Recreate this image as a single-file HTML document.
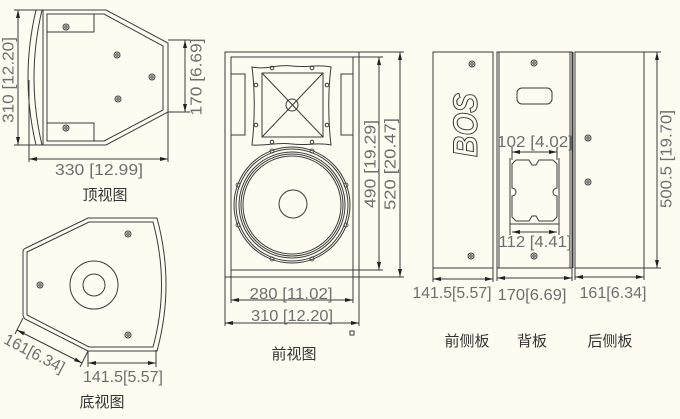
<!DOCTYPE html>
<html><head><meta charset="utf-8"><style>
html,body{margin:0;padding:0;background:#fefcf0;}
svg{display:block;}
.l{fill:none;stroke:#3a3a3a;stroke-width:1;}
.t{font-family:"Liberation Sans",sans-serif;font-size:16px;fill:#6e6e6e;}
.c{font-family:"Liberation Sans","Noto Sans CJK SC",sans-serif;font-size:15px;fill:#333;}
</style></head><body>
<svg width="680" height="419" viewBox="0 0 680 419" xmlns="http://www.w3.org/2000/svg">
<defs>
<marker id="a" viewBox="0 0 8 4" refX="8" refY="2" markerWidth="8" markerHeight="4" markerUnits="userSpaceOnUse" orient="auto-start-reverse"><path d="M0,0 L8,2 L0,4z" fill="#222"/></marker>
<g id="h"><circle r="3" class="l"/><circle r="1.2" class="l"/></g>
</defs>
<rect width="680" height="419" fill="#fefcf0"/>

<!-- TOP VIEW -->
<path class="l" d="M36,10 L106,10 L168,43 L168,112 L106,145 L36,145 Q20,78 36,10 Z"/>
<path class="l" d="M42,10 Q26,78 42,145"/>
<line class="l" x1="43" y1="10" x2="43" y2="145"/>
<path class="l" d="M47,14 L104,14 L163,46 L163,110 L104,141 L47,141 Z"/>
<rect class="l" x="47" y="14" width="47" height="18"/>
<rect class="l" x="47" y="123" width="47" height="18"/>
<use href="#h" x="66" y="27"/><use href="#h" x="117" y="55"/><use href="#h" x="152" y="77"/><use href="#h" x="118" y="99"/><use href="#h" x="66" y="128"/>
<line class="l" x1="14" y1="10" x2="36" y2="10"/><line class="l" x1="14" y1="145" x2="36" y2="145"/>
<line class="l" x1="18" y1="10" x2="18" y2="145" marker-start="url(#a)" marker-end="url(#a)"/>
<text class="t" transform="translate(9,80) rotate(-90)" text-anchor="middle" dominant-baseline="central" textLength="86" lengthAdjust="spacingAndGlyphs">310 [12.20]</text>
<line class="l" x1="168" y1="40" x2="190" y2="40"/><line class="l" x1="168" y1="112" x2="190" y2="112"/>
<line class="l" x1="185" y1="40" x2="185" y2="112" marker-start="url(#a)" marker-end="url(#a)"/>
<text class="t" transform="translate(197,77) rotate(-90)" text-anchor="middle" dominant-baseline="central" textLength="77" lengthAdjust="spacingAndGlyphs">170 [6.69]</text>
<line class="l" x1="29" y1="80" x2="29" y2="162"/><line class="l" x1="168" y1="112" x2="168" y2="162"/>
<line class="l" x1="29" y1="159" x2="168" y2="159" marker-start="url(#a)" marker-end="url(#a)"/>
<text class="t" x="99" y="175" text-anchor="middle" textLength="88" lengthAdjust="spacingAndGlyphs">330 [12.99]</text>
<text class="c" x="105" y="200" text-anchor="middle" font-size="16">顶视图</text>

<!-- BOTTOM VIEW -->
<path class="l" d="M88,218 L157,218 Q175,285 157,351 L88,351 L25,319 Q23,317 23,314 L23,252 Q23,249 26,248 Z"/>
<path class="l" d="M89,222 L153,222 Q170,285 153,347 L89,347 L27,315 L27,252 Z"/>
<circle class="l" cx="94" cy="285" r="24"/><circle class="l" cx="94" cy="285" r="11"/>
<use href="#h" x="128" y="234"/><use href="#h" x="40" y="285"/><use href="#h" x="128" y="335"/>
<line class="l" x1="23" y1="318" x2="15" y2="334"/><line class="l" x1="88" y1="351" x2="80" y2="367"/>
<line class="l" x1="17" y1="330" x2="82" y2="363" marker-start="url(#a)" marker-end="url(#a)"/>
<text class="t" transform="translate(34,354) rotate(27.6)" text-anchor="middle" dominant-baseline="central" textLength="66" lengthAdjust="spacingAndGlyphs">161[6.34]</text>
<line class="l" x1="88" y1="351" x2="88" y2="367"/><line class="l" x1="156" y1="350" x2="156" y2="367"/>
<line class="l" x1="88" y1="363" x2="156" y2="363" marker-start="url(#a)" marker-end="url(#a)"/>
<text class="t" x="123" y="382" text-anchor="middle" textLength="80" lengthAdjust="spacingAndGlyphs">141.5[5.57]</text>
<text class="c" x="102" y="407" text-anchor="middle">底视图</text>

<!-- FRONT VIEW -->
<rect class="l" x="225" y="52" width="134" height="225"/>
<rect class="l" x="231" y="57" width="122" height="213"/>
<line class="l" x1="359" y1="52" x2="404" y2="52"/><line class="l" x1="353" y1="57" x2="383" y2="57"/>
<line class="l" x1="353" y1="270" x2="383" y2="270"/><line class="l" x1="359" y1="277" x2="404" y2="277"/>
<line class="l" x1="379" y1="57" x2="379" y2="270" marker-start="url(#a)" marker-end="url(#a)"/>
<line class="l" x1="400" y1="52" x2="400" y2="277" marker-start="url(#a)" marker-end="url(#a)"/>
<text class="t" transform="translate(371,164) rotate(-90)" text-anchor="middle" dominant-baseline="central" textLength="88" lengthAdjust="spacingAndGlyphs">490 [19.29]</text>
<text class="t" transform="translate(391,164) rotate(-90)" text-anchor="middle" dominant-baseline="central" textLength="92" lengthAdjust="spacingAndGlyphs">520 [20.47]</text>
<rect class="l" x="231" y="74" width="14" height="61"/>
<rect class="l" x="341" y="74" width="12" height="61"/>
<path class="l" d="M252,67 C268,70 276,64 292,66 C308,68 316,64 331,67 C328,90 328,120 331,145 C316,142 308,146 292,144 C276,142 268,146 252,145 C255,120 255,90 252,67 Z"/>
<rect class="l" x="262" y="73" width="61" height="64"/>
<line class="l" x1="262" y1="73" x2="323" y2="137"/><line class="l" x1="323" y1="73" x2="262" y2="137"/>
<circle class="l" cx="292" cy="105" r="6" fill="#fefcf0"/>
<g><circle class="l" cx="272" cy="68" r="1.8"/><circle class="l" cx="312" cy="68" r="1.8"/><circle class="l" cx="256" cy="85" r="1.8"/><circle class="l" cx="327" cy="85" r="1.8"/><circle class="l" cx="256" cy="125" r="1.8"/><circle class="l" cx="327" cy="125" r="1.8"/><circle class="l" cx="272" cy="142" r="1.8"/><circle class="l" cx="312" cy="142" r="1.8"/></g>
<circle class="l" cx="292" cy="205" r="58"/><circle class="l" cx="292" cy="205" r="56" stroke-width="0.8"/><circle class="l" cx="292" cy="205" r="53" stroke-width="0.8"/><circle class="l" cx="292" cy="205" r="51" stroke-width="0.8"/><circle class="l" cx="292" cy="205" r="49" stroke-width="0.8"/>
<circle class="l" cx="293" cy="204" r="14"/>
<g stroke="#3a3a3a" fill="none" stroke-width="0.8"><circle cx="272" cy="151" r="2"/><circle cx="312" cy="151" r="2"/><circle cx="346" cy="185" r="2"/><circle cx="346" cy="225" r="2"/><circle cx="312" cy="259" r="2"/><circle cx="272" cy="259" r="2"/><circle cx="238" cy="225" r="2"/><circle cx="238" cy="185" r="2"/></g>
<line class="l" x1="231" y1="270" x2="231" y2="303"/><line class="l" x1="353" y1="270" x2="353" y2="303"/>
<line class="l" x1="225" y1="277" x2="225" y2="326"/><line class="l" x1="359" y1="277" x2="359" y2="326"/>
<line class="l" x1="231" y1="300" x2="353" y2="300" marker-start="url(#a)" marker-end="url(#a)"/>
<line class="l" x1="225" y1="323" x2="359" y2="323" marker-start="url(#a)" marker-end="url(#a)"/>
<text class="t" x="291" y="299" text-anchor="middle" textLength="83" lengthAdjust="spacingAndGlyphs">280 [11.02]</text>
<text class="t" x="292" y="321" text-anchor="middle" textLength="82" lengthAdjust="spacingAndGlyphs">310 [12.20]</text>
<rect class="l" x="350" y="331" width="4" height="4"/>
<text class="c" x="294" y="359" text-anchor="middle">前视图</text>

<!-- FRONT SIDE PANEL -->
<rect class="l" x="433" y="52" width="60" height="216"/>
<use href="#h" x="472" y="64"/><use href="#h" x="471" y="256"/>
<text transform="translate(466,125) rotate(-90)" text-anchor="middle" dominant-baseline="central" font-family="Liberation Sans,sans-serif" font-size="34" font-weight="bold" font-style="italic" fill="none" stroke="#333" stroke-width="1" textLength="64" lengthAdjust="spacingAndGlyphs">BOS</text>
<line class="l" x1="433" y1="268" x2="433" y2="282"/><line class="l" x1="493" y1="268" x2="493" y2="282"/>
<line class="l" x1="433" y1="279" x2="493" y2="279" marker-start="url(#a)" marker-end="url(#a)"/>
<text class="t" x="452" y="298" text-anchor="middle" textLength="79" lengthAdjust="spacingAndGlyphs">141.5[5.57]</text>
<text class="c" x="467" y="346" text-anchor="middle">前侧板</text>

<!-- BACK PANEL -->
<rect class="l" x="497" y="52" width="75" height="216"/>
<line class="l" x1="499" y1="52" x2="499" y2="268"/><line class="l" x1="570" y1="52" x2="570" y2="268"/>
<use href="#h" x="534" y="63"/><use href="#h" x="534" y="256"/>
<rect class="l" x="517" y="88" width="35" height="16" rx="5"/>
<line class="l" x1="512" y1="147" x2="512" y2="160"/><line class="l" x1="557" y1="147" x2="557" y2="160"/>
<line class="l" x1="512" y1="152" x2="557" y2="152" marker-start="url(#a)" marker-end="url(#a)"/>
<text class="t" x="535" y="147" text-anchor="middle" textLength="76" lengthAdjust="spacingAndGlyphs">102 [4.02]</text>
<line class="l" x1="510" y1="158" x2="510" y2="235"/><line class="l" x1="559" y1="158" x2="559" y2="235"/>
<path class="l" d="M516,160 L529,160 L532,165 L536,165 L539,160 L553,160 L557,164 L557,188 A4,4 0 0 0 557,196 L557,217 L553,221 L539,221 L536,216 L532,216 L529,221 L516,221 L512,217 L512,196 A4,4 0 0 0 512,188 L512,164 Z"/>
<line class="l" x1="510" y1="224" x2="559" y2="224"/>
<line class="l" x1="512" y1="232" x2="557" y2="232" marker-start="url(#a)" marker-end="url(#a)"/>
<text class="t" x="535" y="247" text-anchor="middle" textLength="73" lengthAdjust="spacingAndGlyphs">112 [4.41]</text>
<line class="l" x1="497" y1="268" x2="497" y2="281"/><line class="l" x1="572" y1="268" x2="572" y2="281"/>
<line class="l" x1="497" y1="278" x2="572" y2="278" marker-start="url(#a)" marker-end="url(#a)"/>
<text class="t" x="532" y="300" text-anchor="middle" textLength="69" lengthAdjust="spacingAndGlyphs">170[6.69]</text>
<text class="c" x="532" y="346" text-anchor="middle">背板</text>

<!-- REAR SIDE PANEL -->
<line class="l" x1="573" y1="52" x2="573" y2="268"/>
<rect class="l" x="575" y="52" width="69" height="216"/>
<use href="#h" x="588" y="138"/><use href="#h" x="588" y="182"/>
<line class="l" x1="644" y1="52" x2="661" y2="52"/><line class="l" x1="644" y1="268" x2="661" y2="268"/>
<line class="l" x1="657" y1="52" x2="657" y2="268" marker-start="url(#a)" marker-end="url(#a)"/>
<text class="t" transform="translate(667,159) rotate(-90)" text-anchor="middle" dominant-baseline="central" textLength="98" lengthAdjust="spacingAndGlyphs">500.5 [19.70]</text>
<line class="l" x1="575" y1="268" x2="575" y2="280"/><line class="l" x1="644" y1="268" x2="644" y2="280"/>
<line class="l" x1="575" y1="277" x2="644" y2="277" marker-start="url(#a)" marker-end="url(#a)"/>
<text class="t" x="613" y="298" text-anchor="middle" textLength="67" lengthAdjust="spacingAndGlyphs">161[6.34]</text>
<text class="c" x="610" y="346" text-anchor="middle">后侧板</text>
</svg>
</body></html>
